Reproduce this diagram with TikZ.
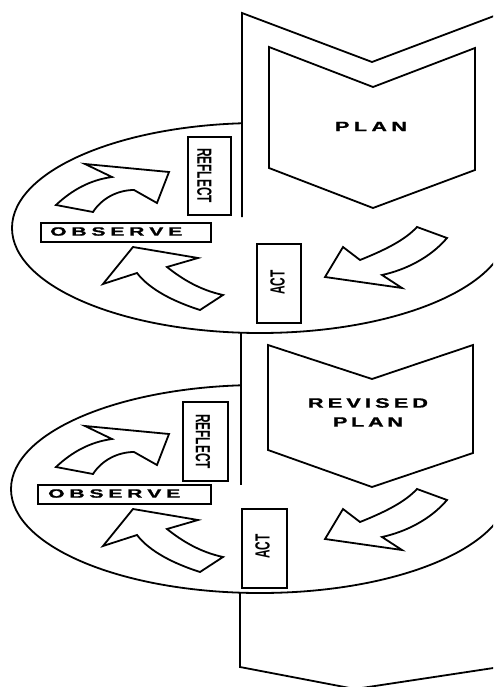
\documentclass[tikz,border=0pt]{standalone}
\usepackage{fontspec}
\usepackage{graphicx}
\newfontfamily\lblfont{Liberation Sans}[FakeBold=1.2]
\newfontfamily\narfont{Liberation Sans}
\newcommand\W[1]{\scalebox{1.6}[1]{#1}}
\newcommand\WW[1]{\scalebox{1.75}[1]{#1}}
\newcommand\N[1]{\scalebox{0.58}[1]{#1}}
\newcommand\spreadtext[2]{\makebox[#1][s]{#2}}
\tikzset{
  outline/.style={line width=1.8pt, line join=miter},
  lblbox/.style={draw, line width=2.2pt, inner sep=0pt},
  widelbl/.style={inner sep=0pt},
  narrowlbl/.style={font=\narfont\bfseries\fontsize{20.5}{21}\selectfont, inner sep=0pt},
  blockarrow/.style={line width=1.8pt, line join=miter, fill=white},
}
\begin{document}
\begin{tikzpicture}[x=1pt,y=-1pt]
\useasboundingbox (0,0) rectangle (493,687);
\clip (0,0) rectangle (493,687);

% ---------- big banner outline ----------
\coordinate (ctop) at (242,13);
\coordinate (cnotch) at (372,62);
\coordinate (cright) at (502,13);
\coordinate (v1end) at (242,217);
\draw[outline] (v1end) -- (ctop) -- (cnotch) -- (cright);
\coordinate (v2a) at (241,333);
\coordinate (v2b) at (241,485);
\draw[outline] (v2a) -- (v2b);
\coordinate (v3a) at (240,593);
\coordinate (v3b) at (240,667);
\coordinate (bapex) at (355,689);
\coordinate (bright) at (500,667);
\draw[outline] (v3a) -- (v3b) -- (bapex) -- (bright);

% ---------- section 1 ----------
\draw[outline] (269,47) -- (373,87) -- (475,48) -- (475,170) -- (373,208) -- (269,168) -- cycle;
\node[widelbl, font=\lblfont\bfseries\fontsize{13.5}{14}\selectfont] (plan1) at (371,126.5) {\spreadtext{72pt}{\W{P}\hfill\W{L}\hfill\W{A}\hfill\W{N}}};

\begin{scope}
  \clip (0,0) -- (242,0) -- (242,228) -- (493,228) -- (493,350) -- (0,350) -- cycle;
  \draw[outline] (260,228) ellipse [x radius=248pt, y radius=105pt];
\end{scope}

\node[lblbox, minimum width=43pt, minimum height=78pt] (reflbox1) at (209.5,176) {};
\node[narrowlbl, rotate=-90] (refl1) at (204.5,175.5) {\N{REFLECT}};
\node[lblbox, minimum width=170pt, minimum height=19pt] (obsbox1) at (126,232.5) {};
\node[widelbl, font=\lblfont\bfseries\fontsize{12}{12}\selectfont, anchor=west] (obs1) at (50,231.5) {\spreadtext{132pt}{\WW{O}\hfill\WW{B}\hfill\WW{S}\hfill\WW{E}\hfill\WW{R}\hfill\WW{V}\hfill\WW{E}}};
\node[lblbox, minimum width=44pt, minimum height=79pt] (actbox1) at (279,283.5) {};
\node[narrowlbl, rotate=90] (act1) at (277.5,282.5) {\N{ACT}};

\draw[blockarrow] (56,205) .. controls (72,190) and (90,180) .. (112,177) -- (85,164) -- (169,172) -- (157,203) -- (134,190) .. controls (118,190) and (102,198) .. (93,212) -- cycle;
\draw[blockarrow] (133,247) -- (198,258) -- (167,267) .. controls (182,279) and (200,290) .. (223,295) -- (200,310) .. controls (175,302) and (150,290) .. (137,273) -- (103,284) -- cycle;
\draw[blockarrow] (325,277) -- (343,247) -- (360,260) .. controls (385,250) and (405,240) .. (417,227) -- (447,238) .. controls (430,258) and (405,270) .. (382,275) -- (402,288) -- cycle;

% ---------- section 2 ----------
\draw[outline] (268,345) -- (372,379) -- (473,345) -- (473,453) -- (372,487) -- (268,450) -- cycle;
\node[widelbl, font=\lblfont\bfseries\fontsize{13.5}{14}\selectfont] (rev2) at (368,403) {\spreadtext{120pt}{\W{R}\hfill\W{E}\hfill\W{V}\hfill\W{I}\hfill\W{S}\hfill\W{E}\hfill\W{D}}};
\node[widelbl, font=\lblfont\bfseries\fontsize{13.5}{14}\selectfont] (plan2) at (368,422) {\spreadtext{70pt}{\W{P}\hfill\W{L}\hfill\W{A}\hfill\W{N}}};

\begin{scope}
  \clip (0,350) -- (241,350) -- (241,489) -- (493,489) -- (493,687) -- (0,687) -- cycle;
  \draw[outline] (260,489) ellipse [x radius=249pt, y radius=104pt];
\end{scope}

\node[lblbox, minimum width=45pt, minimum height=79pt] (reflbox2) at (205.5,441.5) {};
\node[narrowlbl, rotate=-90] (refl2) at (203,441.5) {\N{REFLECT}};
\node[lblbox, minimum width=173pt, minimum height=19pt] (obsbox2) at (124.5,494.5) {};
\node[widelbl, font=\lblfont\bfseries\fontsize{12}{12}\selectfont, anchor=west] (obs2) at (48,493.5) {\spreadtext{132pt}{\WW{O}\hfill\WW{B}\hfill\WW{S}\hfill\WW{E}\hfill\WW{R}\hfill\WW{V}\hfill\WW{E}}};
\node[lblbox, minimum width=45pt, minimum height=79pt] (actbox2) at (264.5,548.5) {};
\node[narrowlbl, rotate=90] (act2) at (262.5,546.5) {\N{ACT}};

\begin{scope}[shift={(0,262)}]
\draw[blockarrow] (56,205) .. controls (72,190) and (90,180) .. (112,177) -- (85,164) -- (169,172) -- (157,203) -- (134,190) .. controls (118,190) and (102,198) .. (93,212) -- cycle;
\draw[blockarrow] (133,247) -- (198,258) -- (167,267) .. controls (182,279) and (200,290) .. (223,295) -- (200,310) .. controls (175,302) and (150,290) .. (137,273) -- (103,284) -- cycle;
\draw[blockarrow] (325,277) -- (343,247) -- (360,260) .. controls (385,250) and (405,240) .. (417,227) -- (447,238) .. controls (430,258) and (405,270) .. (382,275) -- (402,288) -- cycle;
\end{scope}
\end{tikzpicture}
\end{document}
